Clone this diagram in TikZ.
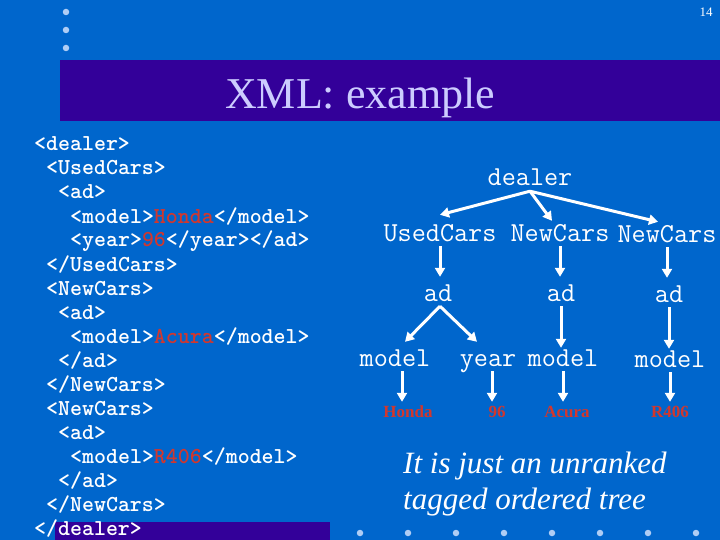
\documentclass[tikz,border=0pt]{standalone}
\usepackage{fontspec}
\setmainfont{Liberation Serif}
\usetikzlibrary{arrows.meta}
\definecolor{bgblue}{RGB}{0,102,204}
\definecolor{barpurple}{RGB}{51,0,153}
\definecolor{titlelav}{RGB}{204,204,255}
\definecolor{dotblue}{RGB}{175,205,245}
\definecolor{leafred}{RGB}{210,55,45}
\tikzset{
  codeline/.style={anchor=base west, inner sep=0pt, text=white, font=\fontsize{22.8}{26}\selectfont\ttfamily\bfseries},
  treenode/.style={anchor=base, inner sep=0pt, text=white, text height=16pt, text depth=5pt, font=\fontsize{27.4}{30}\selectfont\ttfamily},
  leafnode/.style={anchor=base, inner sep=0pt, text=leafred, text height=12pt, text depth=0pt, font=\fontsize{17}{20}\selectfont\bfseries},
  arr/.style={draw=white, line width=3pt, -{Triangle[length=9pt,width=10pt]}},
  bullet/.style={circle, fill=dotblue, inner sep=0pt, minimum size=6.5pt}
}
\newcommand{\red}[1]{\textcolor{leafred}{#1}}
\begin{document}
\begin{tikzpicture}[x=1pt,y=-1pt]
\useasboundingbox (0,0) rectangle (720,540);
\fill[bgblue] (0,0) rectangle (720,540);
% top-left bullets
\node[bullet] (b1) at (66,12) {};
\node[bullet] (b2) at (66,30) {};
\node[bullet] (b3) at (66,48) {};
% page number
\node[anchor=base, inner sep=0pt, text=white, font=\fontsize{13}{15}\selectfont] (pg) at (706,17) {14};
% title bar
\fill[barpurple] (60,60) rectangle (720,121);
\node[anchor=base west, inner sep=0pt, text=titlelav, font=\fontsize{44}{50}\selectfont] (title) at (225,109) {XML: example};
% bottom bar behind </dealer>
\fill[barpurple] (55,522) rectangle (330,540);
% bottom bullets
\foreach \i in {0,...,7} {
  \node[bullet] (d\i) at (360+48*\i,533) {};
}
% code
\node[codeline] (c0) at (34,151) {<dealer>};
\node[codeline] (c1) at (46,175) {<UsedCars>};
\node[codeline] (c2) at (58,199) {<ad>};
\node[codeline] (c3) at (70,223) {<model>\red{Honda}</model>};
\node[codeline] (c4) at (70,247) {<year>\red{96}</year></ad>};
\node[codeline] (c5) at (46,271) {</UsedCars>};
\node[codeline] (c6) at (46,295) {<NewCars>};
\node[codeline] (c7) at (58,319) {<ad>};
\node[codeline] (c8) at (70,343) {<model>\red{Acura}</model>};
\node[codeline] (c9) at (58,367) {</ad>};
\node[codeline] (c10) at (46,391) {</NewCars>};
\node[codeline] (c11) at (46,415) {<NewCars>};
\node[codeline] (c12) at (58,439) {<ad>};
\node[codeline] (c13) at (70,463) {<model>\red{R406}</model>};
\node[codeline] (c14) at (58,487) {</ad>};
\node[codeline] (c15) at (46,511) {</NewCars>};
\node[codeline] (c16) at (34,535) {</dealer>};
% tree
\node[treenode] (dealer) at (530,186) {dealer};
\node[treenode] (used) at (440,241) {UsedCars};
\node[treenode] (new1) at (560,241) {NewCars};
\node[treenode] (new2) at (667,242) {NewCars};
\node[treenode] (ad1) at (438,301) {ad};
\node[treenode] (ad2) at (561,301) {ad};
\node[treenode] (ad3) at (669,302) {ad};
\node[treenode] (model1) at (395,366) {model};
\node[treenode] (year) at (488,366) {year};
\node[treenode] (model2) at (563,366) {model};
\node[treenode] (model3) at (670,367) {model};
\node[leafnode] (honda) at (408,417) {Honda};
\node[leafnode] (n96) at (497,417) {96};
\node[leafnode] (acura) at (567,417) {Acura};
\node[leafnode] (r406) at (670,417) {R406};
% arrows
\draw[arr] (dealer.south) -- ([yshift=10pt]used.north);
\draw[arr] (dealer.south) -- ([xshift=-8pt,yshift=4pt]new1.north);
\draw[arr] (dealer.south) -- ([xshift=-9pt,yshift=4pt]new2.north);
\draw[arr] (used.south) -- ([yshift=8pt]used.south |- ad1.north);
\draw[arr] (new1.south) -- ([yshift=8pt]new1.south |- ad2.north);
\draw[arr] (new2.south) -- ([yshift=8pt]new2.south |- ad3.north);
\draw[arr] ([xshift=2pt]ad1.south) -- ([xshift=10pt,yshift=8pt]model1.north);
\draw[arr] ([xshift=2pt]ad1.south) -- ([xshift=-11pt,yshift=8pt]year.north);
\draw[arr] (ad2.south) -- ([yshift=2pt]ad2.south |- model2.north);
\draw[arr] (ad3.south) -- ([yshift=2pt]ad3.south |- model3.north);
\draw[arr] ([xshift=7pt]model1.south) -- ([xshift=-6pt,yshift=3pt]honda.north);
\draw[arr] ([xshift=4pt]year.south) -- ([xshift=-5pt,yshift=3pt]n96.north);
\draw[arr] (model2.south) -- ([xshift=-4pt,yshift=3pt]acura.north);
\draw[arr] (model3.south) -- ([yshift=3pt]r406.north);
% note
\node[anchor=base west, inner sep=0pt, text=white, font=\fontsize{31}{36}\selectfont\itshape] (note1) at (403,473) {It is just an unranked};
\node[anchor=base west, inner sep=0pt, text=white, font=\fontsize{31}{36}\selectfont\itshape] (note2) at (403,509) {tagged ordered tree};
\end{tikzpicture}
\end{document}
